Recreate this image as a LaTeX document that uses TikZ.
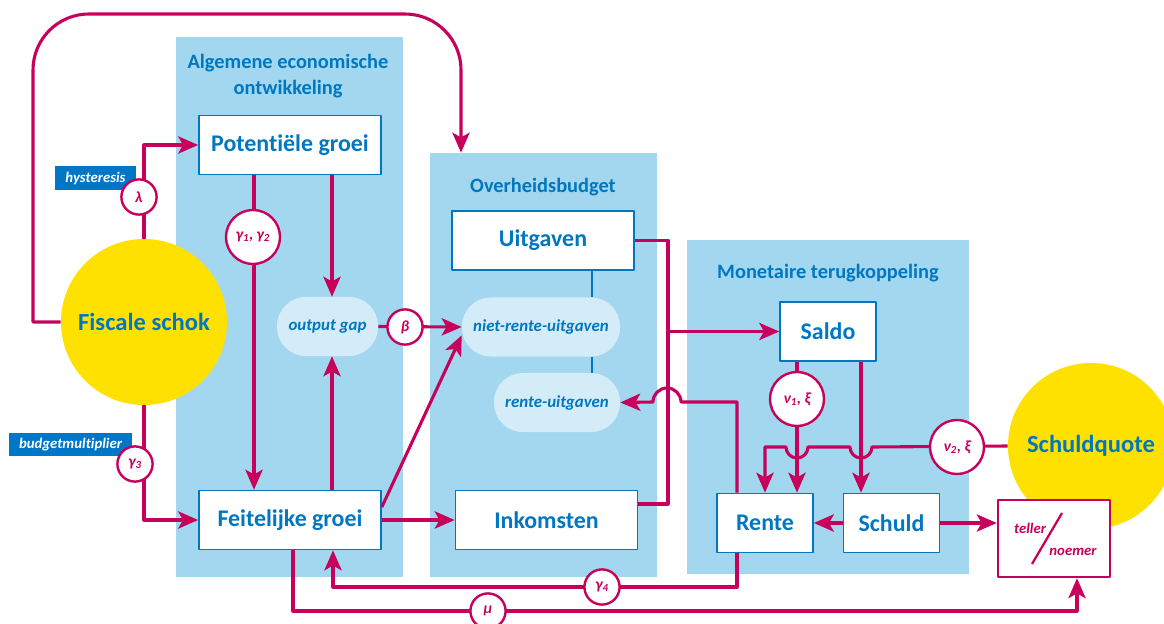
\documentclass[tikz,border=0pt]{standalone}
\usepackage{fontspec}
\setmainfont{Carlito}[Ligatures=NoCommon]
\usetikzlibrary{arrows.meta,calc,positioning}

\definecolor{flowred}{RGB}{199,0,91}
\definecolor{textblue}{RGB}{0,119,192}
\definecolor{panelblue}{RGB}{162,215,239}
\definecolor{pillblue}{RGB}{211,236,248}
\definecolor{shockyellow}{RGB}{255,225,0}
\definecolor{tagblue}{RGB}{0,118,198}

\tikzset{
  panel/.style={fill=panelblue, inner sep=0pt},
  title/.style={text=textblue, align=center, font=\bfseries\fontsize{14.5}{18.4}\selectfont},
  box/.style={draw=textblue, line width=1.1pt, fill=white, text=textblue,
    minimum width=4.55cm, minimum height=1.475cm, inner sep=0pt,
    font=\bfseries\fontsize{17}{20}\selectfont},
  pill/.style={fill=pillblue, rounded corners=0.72cm, text=textblue,
    minimum height=1.475cm, inner sep=0pt, font=\bfseries\itshape\fontsize{12}{14}\selectfont},
  shock/.style={circle, fill=shockyellow, minimum size=4.15cm, inner sep=0pt, text=textblue,
    font=\bfseries\fontsize{17.5}{20}\selectfont},
  tag/.style={fill=tagblue, text=white, minimum height=0.59cm, inner sep=0pt,
    font=\bfseries\itshape\fontsize{10.5}{12}\selectfont},
  param/.style={circle, draw=flowred, line width=1.7pt, fill=white, text=flowred,
    minimum size=0.88cm, inner sep=0pt, font=\bfseries\itshape\fontsize{11}{12}\selectfont},
  bigparam/.style={param, minimum size=1.35cm},
  tellerbox/.style={draw=flowred, line width=1.7pt, fill=white,
    minimum width=2.8cm, minimum height=1.925cm},
  fraction/.style={text=flowred, font=\bfseries\itshape\fontsize{10.5}{12}\selectfont},
  link/.style={draw=flowred, line width=2.2pt},
  conn/.style={link, ->},
  split/.style={draw=textblue, line width=0.8pt}
}

\begin{document}
\begin{tikzpicture}[x=0.025cm, y=0.025cm, line join=round,
    >={Stealth[length=5mm,width=4.3mm,inset=1.2mm]}]
  \useasboundingbox (0,0) rectangle (1164,-624);

  % Add panels
  \node[panel, minimum width=5.675cm, minimum height=13.5cm] (pecon) at (289.5,-307) {};
  \node[panel, minimum width=5.675cm, minimum height=10.6cm] (pbudget) at (543.5,-365) {};
  \node[panel, minimum width=7.05cm, minimum height=8.35cm] (pmon) at (828,-407) {};

  \node[title] (tecon) at (288,-76) {Algemene economische\\ontwikkeling};
  \node[title] (tbudget) at (543,-187) {Overheidsbudget};
  \node[title] (tmon) at (828,-273) {Monetaire terugkoppeling};

  % Add shocks
  \node[shock] (fiscal) at (144,-322) {Fiscale schok};
  \node[shock] (quote) at (1091,-446) {Schuldquote};

  % Add boxes
  \node[box] (potgroei) at (290,-145) {Potentiële groei};
  \node[box] (feitgroei) at (290,-520) {Feitelijke groei};
  \node[box] (uitgaven) at (543,-240.5) {Uitgaven};
  \node[box] (inkomsten) at (546.5,-520) {Inkomsten};
  \node[box, minimum width=2.4cm] (saldo) at (828,-331.5) {Saldo};
  \node[box, minimum width=2.4cm] (rente) at (765,-523) {Rente};
  \node[box, minimum width=2.4cm] (schuld) at (891.5,-523) {Schuld};
  \node[tellerbox] (teller) at (1054,-538.5) {};
  \draw[flowred, line width=1.6pt] (1062,-513) -- (1032,-564);
  \node[fraction] (tellertxt) at (1030,-528) {teller};
  \node[fraction] (noemertxt) at (1073,-552) {noemer};

  \node[pill, minimum width=2.525cm] (gap) at (327.5,-326.5) {output gap};
  \node[pill, minimum width=3.95cm] (nietrente) at (541,-327) {niet-rente-uitgaven};
  \node[pill, minimum width=3.15cm] (renteuit) at (557,-402.5) {rente-uitgaven};

  \node[tag, minimum width=2.025cm] (hyst) at (95.5,-178) {hysteresis};
  \node[tag, minimum width=3.075cm] (budgetmult) at (70.5,-444.5) {budgetmultiplier};

  % Column positions of the connectors
  \coordinate (gx) at (254,0);
  \coordinate (gapx) at (332,0);
  \coordinate (topx) at (461,0);
  \coordinate (splitx) at (592,0);
  \coordinate (trunk) at (668,-330);
  \coordinate (renx) at (737,0);
  \coordinate (nux) at (797,0);
  \coordinate (schx) at (861,0);
  \coordinate (g4x) at (333,0);
  \coordinate (mux) at (293,0);
  \coordinate (tnx) at (1077,0);

  % Add connectors
  \draw[conn] (fiscal.west) -| (33,-70) arc[start angle=180, end angle=90, radius=1.4cm]
    -- (405,-14) arc[start angle=90, end angle=0, radius=1.4cm] -- (pbudget.north -| topx);
  \draw[conn] (fiscal.north) |- (potgroei.west);
  \draw[conn] (fiscal.south) |- (feitgroei.west);
  \draw[conn] (potgroei.south -| gx) -- (feitgroei.north -| gx);
  \draw[conn] (potgroei.south -| gapx) -- (gap.north -| gapx);
  \draw[conn] (feitgroei.north -| gapx) -- (gap.south -| gapx);
  \draw[conn] (gap.east) -- (nietrente.west);
  \draw[conn] (feitgroei.8) -- (nietrente.186);
  \draw[conn] (feitgroei.east) -- (inkomsten.west);

  \draw[split] (uitgaven.south -| splitx) -- (nietrente.north -| splitx);
  \draw[split] (nietrente.south -| splitx) -- (renteuit.north -| splitx);

  \draw[link] (uitgaven.east) -| (trunk) |- ([yshift=0.4cm]inkomsten.east);
  \draw[conn] (trunk) -- (saldo.west -| trunk) -- (saldo.west);
  \draw[conn] (rente.north -| renx) |- (681,-402)
    arc[start angle=0, end angle=180, radius=0.35cm] -- (renteuit.east);

  \draw[conn] (saldo.south -| nux) -- (rente.north -| nux);
  \draw[conn] (saldo.south -| schx) -- (schuld.north -| schx);
  \draw[conn] (quote.west) -- (872,-447) arc[start angle=0, end angle=-180, radius=0.275cm]
    -- (808,-447) arc[start angle=0, end angle=-180, radius=0.275cm] -| (rente.north);
  \draw[conn] (schuld.west) -- (rente.east);
  \draw[conn] (schuld.east) -- (schuld.east -| teller.west);

  \draw[conn] (rente.south -| renx) |- (333,-587) -- (feitgroei.south -| g4x);
  \draw[conn] (feitgroei.south -| mux) |- (1077,-611) -- (teller.south -| tnx);

  % Add parameters
  \node[param] (lambda) at (139,-197) {λ};
  \node[param] (gamma3) at (135,-464) {γ\textsubscript{3}};
  \node[bigparam] (gamma12) at (253,-237) {γ\textsubscript{1}, γ\textsubscript{2}};
  \node[param] (beta) at (405,-327) {β};
  \node[param] (gamma4) at (602,-587) {γ\textsubscript{4}};
  \node[param] (mu) at (488,-611) {μ};
  \node[bigparam] (nu1) at (797,-399) {ν\textsubscript{1}, ξ};
  \node[bigparam] (nu2) at (957,-447) {ν\textsubscript{2}, ξ};
\end{tikzpicture}
\end{document}
